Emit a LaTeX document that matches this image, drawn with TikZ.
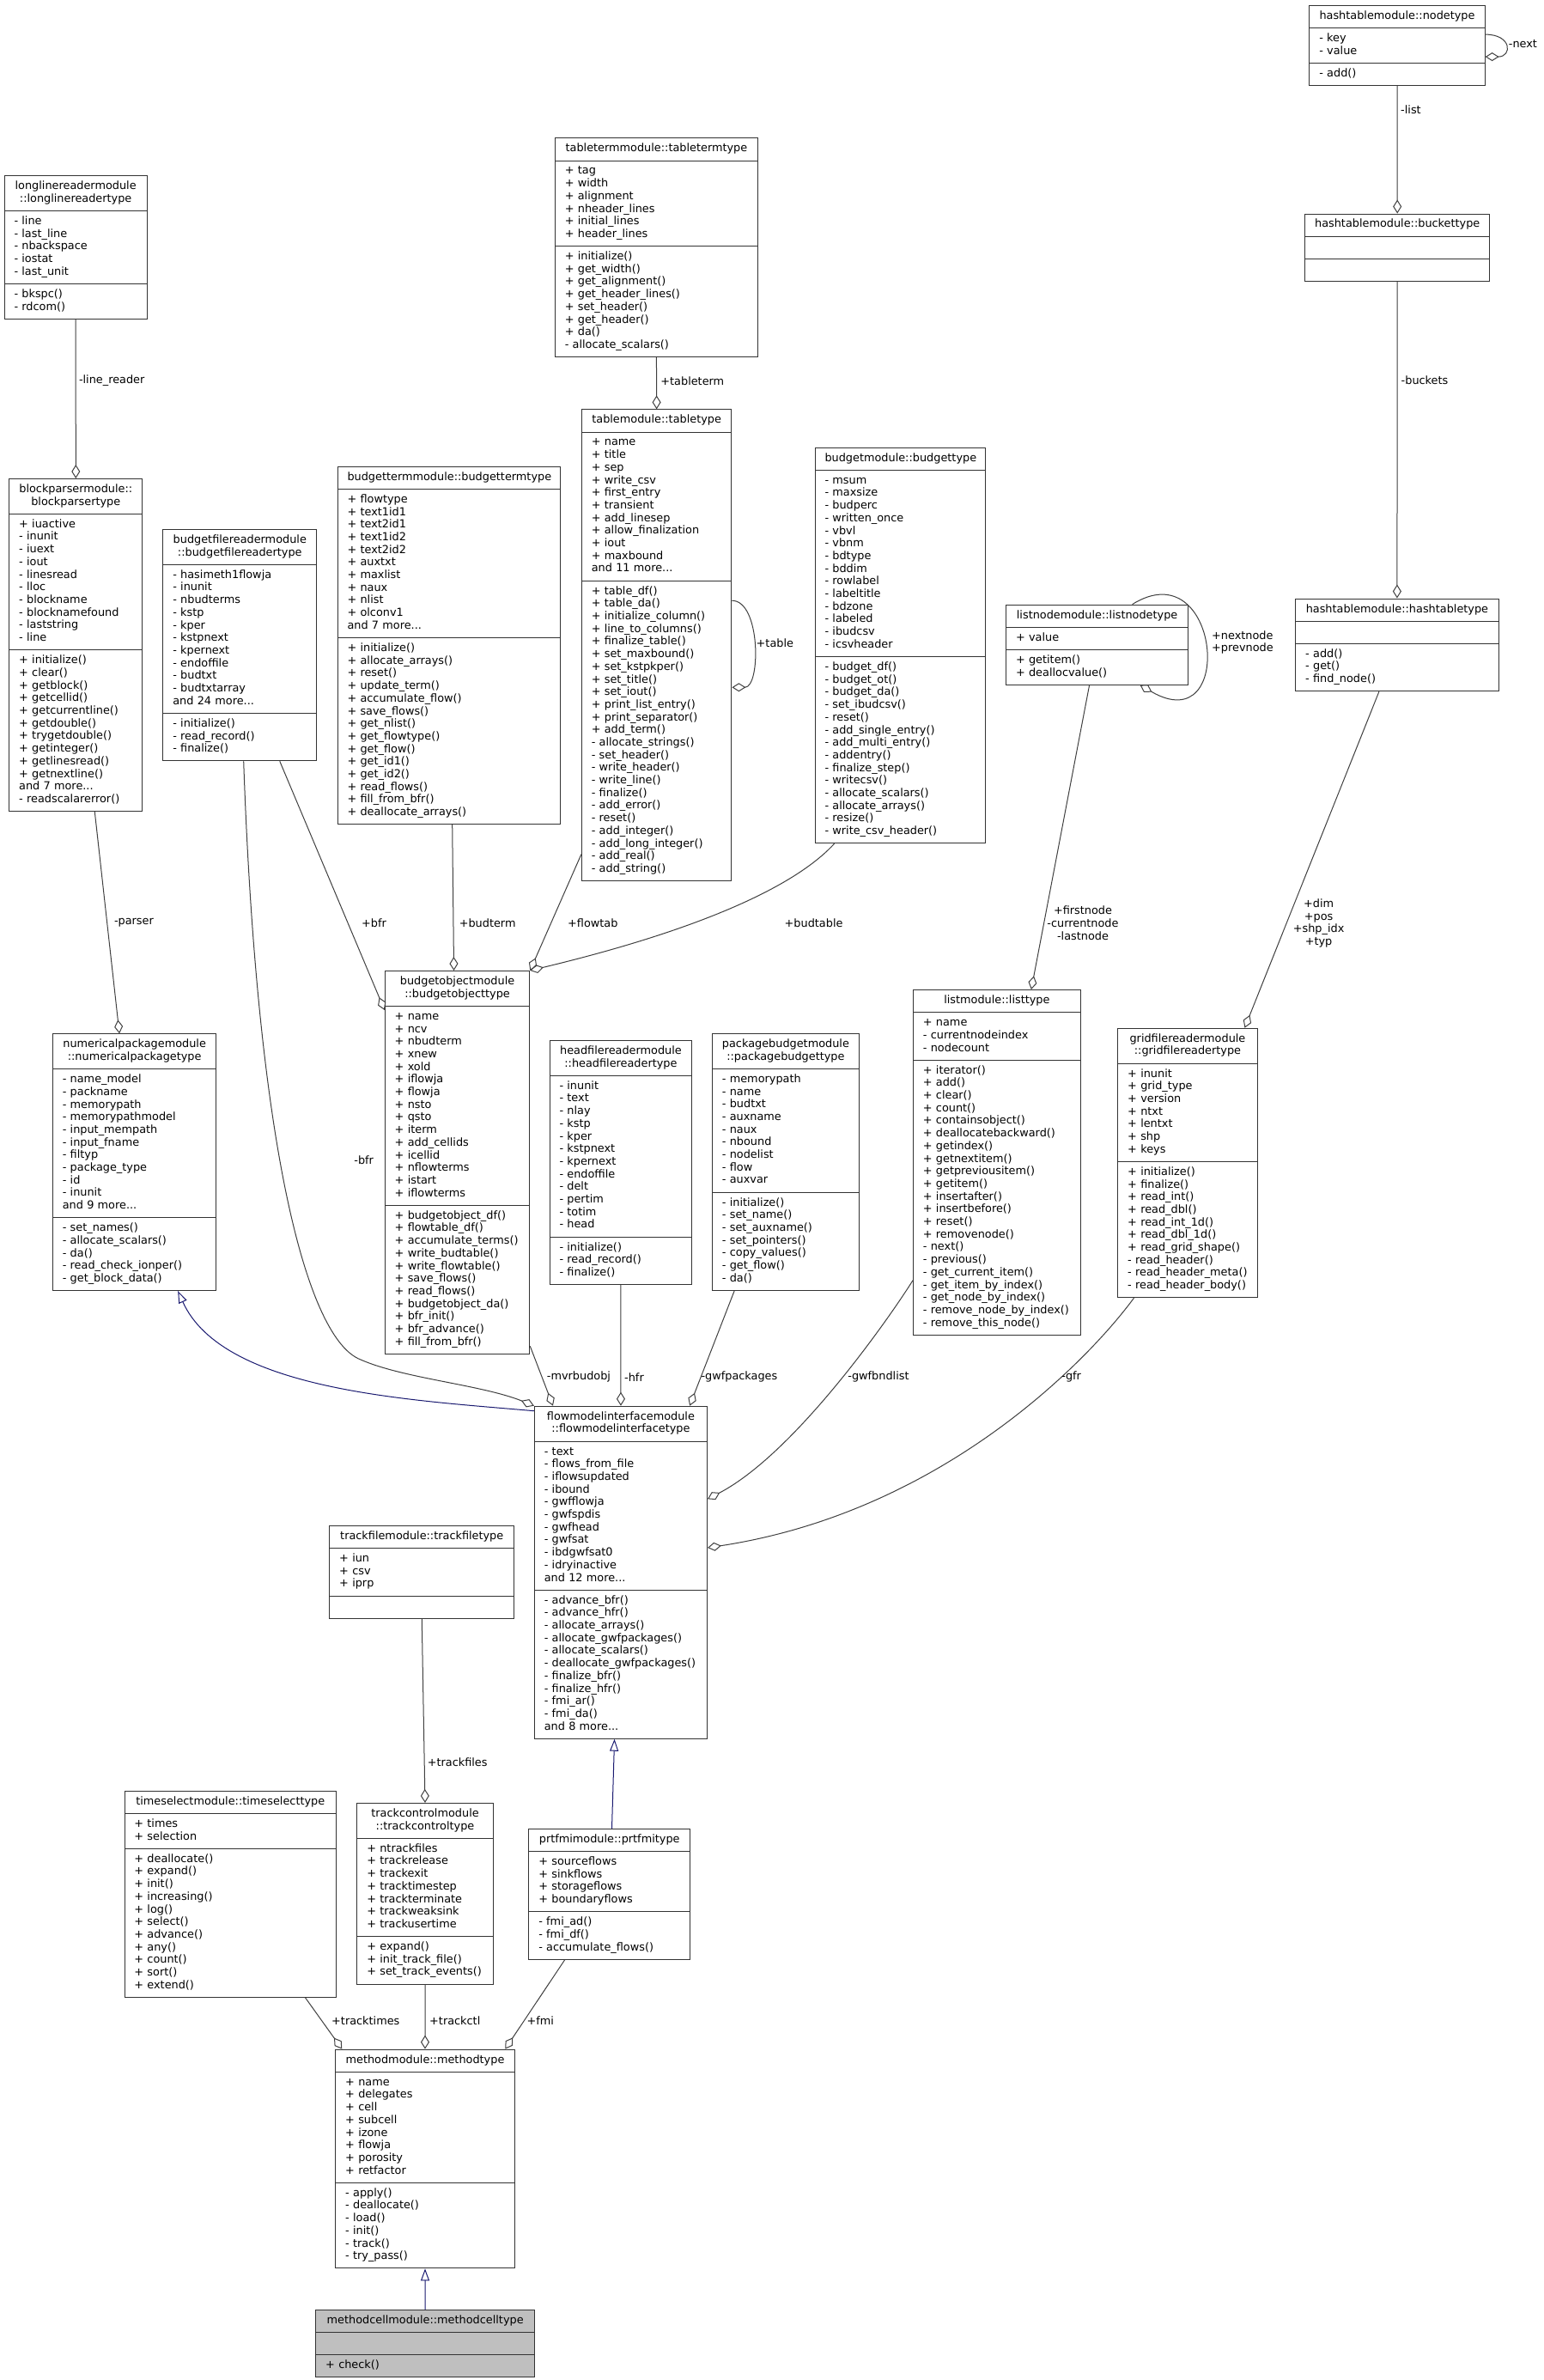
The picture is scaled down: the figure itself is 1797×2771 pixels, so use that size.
\documentclass[tikz,border=0pt]{standalone}
\usepackage{fontspec}
\setmainfont{DejaVu Sans}
\usepackage{tikz}
\usetikzlibrary{arrows.meta,shapes.multipart}

\definecolor{boxline}{HTML}{333333}
\definecolor{edgegray}{HTML}{404040}
\definecolor{inhblue}{HTML}{191970}
\definecolor{mainfill}{HTML}{BFBFBF}

\newcommand\clsfont{\fontsize{12.85}{14.7}\selectfont\hyphenpenalty=10000\exhyphenpenalty=10000}
\newcommand\umlcls[3]{\parbox{\linewidth}{\centering\strut#1\strut}\nodepart{two}\raggedright\strut#2\strut\nodepart{three}\raggedright\strut#3\strut}

\tikzset{
  cls/.style={rectangle split, rectangle split parts=3, draw=boxline, fill=white,
    line width=1pt, inner xsep=11.4pt, inner ysep=5.2pt, text width=#1,
    anchor=north west, font=\clsfont},
  maincls/.style={cls=#1, fill=mainfill},
  lbl/.style={inner sep=0pt, font=\clsfont},
  aggr/.style={draw=edgegray, line width=1pt, -{Diamond[open,length=16pt,width=10pt]}},
  inherit/.style={draw=inhblue, line width=1pt, -{Triangle[open,length=14pt,width=10pt]}}
}

\begin{document}
\begin{tikzpicture}[x=1pt, y=-1pt]
\useasboundingbox[fill=white] (0,0) rectangle (1797,2771);

% Hash table
\node[cls=181.4pt] (htnode) at (1524.4,6.1)
  {\umlcls{hashtablemodule::nodetype}{-~key\\-~value}{-~add()}};
\node[cls=192.4pt] (htbucket) at (1519.1,248.5)
  {\umlcls{hashtablemodule::buckettype}{}{}};
\node[cls=213.4pt] (httable) at (1508.3,696.5)
  {\umlcls{hashtablemodule::hashtabletype}{}{-~add()\\-~get()\\-~find\_node()}};

% Lists
\node[cls=189.2pt] (lnode) at (1171.1,703.6)
  {\umlcls{listnodemodule::listnodetype}{+~value}{+~getitem()\\+~deallocvalue()}};
\node[cls=172pt] (ltype) at (1063,1152)
  {\umlcls{listmodule::listtype}{+~name\\-~currentnodeindex\\-~nodecount}
  {+~iterator()\\+~add()\\+~clear()\\+~count()\\+~containsobject()\\+~deallocatebackward()\\+~getindex()\\+~getnextitem()\\+~getpreviousitem()\\+~getitem()\\+~insertafter()\\+~insertbefore()\\+~reset()\\+~removenode()\\-~next()\\-~previous()\\-~get\_current\_item()\\-~get\_item\_by\_index()\\-~get\_node\_by\_index()\\-~remove\_node\_by\_index()\\-~remove\_this\_node()}};
\node[cls=139.5pt] (gfr) at (1301.3,1196.7)
  {\umlcls{gridfilereadermodule\\::gridfilereadertype}
  {+~inunit\\+~grid\_type\\+~version\\+~ntxt\\+~lentxt\\+~shp\\+~keys}
  {+~initialize()\\+~finalize()\\+~read\_int()\\+~read\_dbl()\\+~read\_int\_1d()\\+~read\_dbl\_1d()\\+~read\_grid\_shape()\\-~read\_header()\\-~read\_header\_meta()\\-~read\_header\_body()}};

% Readers and parsers
\node[cls=143.3pt] (llr) at (4.6,204.3)
  {\umlcls{longlinereadermodule\\::longlinereadertype}
  {-~line\\-~last\_line\\-~nbackspace\\-~iostat\\-~last\_unit}{-~bkspc()\\-~rdcom()}};
\node[cls=132.2pt] (bps) at (10.3,557)
  {\umlcls{blockparsermodule::\\blockparsertype}
  {+~iuactive\\-~inunit\\-~iuext\\-~iout\\-~linesread\\-~lloc\\-~blockname\\-~blocknamefound\\-~laststring\\-~line}
  {+~initialize()\\+~clear()\\+~getblock()\\+~getcellid()\\+~getcurrentline()\\+~getdouble()\\+~trygetdouble()\\+~getinteger()\\+~getlinesread()\\+~getnextline()\\and~7~more...\\-~readscalarerror()}};
\node[cls=156pt] (bfr) at (189.4,615.9)
  {\umlcls{budgetfilereadermodule\\::budgetfilereadertype}
  {-~hasimeth1flowja\\-~inunit\\-~nbudterms\\-~kstp\\-~kper\\-~kstpnext\\-~kpernext\\-~endoffile\\-~budtxt\\-~budtxtarray\\and~24~more...}
  {-~initialize()\\-~read\_record()\\-~finalize()}};
\node[cls=237pt] (bterm) at (392.6,542.8)
  {\umlcls{budgettermmodule::budgettermtype}
  {+~flowtype\\+~text1id1\\+~text2id1\\+~text1id2\\+~text2id2\\+~auxtxt\\+~maxlist\\+~naux\\+~nlist\\+~olconv1\\and~7~more...}
  {+~initialize()\\+~allocate\_arrays()\\+~reset()\\+~update\_term()\\+~accumulate\_flow()\\+~save\_flows()\\+~get\_nlist()\\+~get\_flowtype()\\+~get\_flow()\\+~get\_id1()\\+~get\_id2()\\+~read\_flows()\\+~fill\_from\_bfr()\\+~deallocate\_arrays()}};

% Tables and budgets
\node[cls=213.3pt] (tterm) at (645.9,160.4)
  {\umlcls{tabletermmodule::tabletermtype}
  {+~tag\\+~width\\+~alignment\\+~nheader\_lines\\+~initial\_lines\\+~header\_lines}
  {+~initialize()\\+~get\_width()\\+~get\_alignment()\\+~get\_header\_lines()\\+~set\_header()\\+~get\_header()\\+~da()\\-~allocate\_scalars()}};
\node[cls=151.7pt] (ttype) at (676.9,476.4)
  {\umlcls{tablemodule::tabletype}
  {+~name\\+~title\\+~sep\\+~write\_csv\\+~first\_entry\\+~transient\\+~add\_linesep\\+~allow\_finalization\\+~iout\\+~maxbound\\and~11~more...}
  {+~table\_df()\\+~table\_da()\\+~initialize\_column()\\+~line\_to\_columns()\\+~finalize\_table()\\+~set\_maxbound()\\+~set\_kstpkper()\\+~set\_title()\\+~set\_iout()\\+~print\_list\_entry()\\+~print\_separator()\\+~add\_term()\\-~allocate\_strings()\\-~set\_header()\\-~write\_header()\\-~write\_line()\\-~finalize()\\-~add\_error()\\-~reset()\\-~add\_integer()\\-~add\_long\_integer()\\-~add\_real()\\-~add\_string()}};
\node[cls=175.9pt] (btype) at (948.6,520.7)
  {\umlcls{budgetmodule::budgettype}
  {-~msum\\-~maxsize\\-~budperc\\-~written\_once\\-~vbvl\\-~vbnm\\-~bdtype\\-~bddim\\-~rowlabel\\-~labeltitle\\-~bdzone\\-~labeled\\-~ibudcsv\\-~icsvheader}
  {-~budget\_df()\\-~budget\_ot()\\-~budget\_da()\\-~set\_ibudcsv()\\-~reset()\\-~add\_single\_entry()\\-~add\_multi\_entry()\\-~addentry()\\-~finalize\_step()\\-~writecsv()\\-~allocate\_scalars()\\-~allocate\_arrays()\\-~resize()\\-~write\_csv\_header()}};

% Middle row
\node[cls=167.7pt] (numpkg) at (60.9,1203.3)
  {\umlcls{numericalpackagemodule\\::numericalpackagetype}
  {-~name\_model\\-~packname\\-~memorypath\\-~memorypathmodel\\-~input\_mempath\\-~input\_fname\\-~filtyp\\-~package\_type\\-~id\\-~inunit\\and~9~more...}
  {-~set\_names()\\-~allocate\_scalars()\\-~da()\\-~read\_check\_ionper()\\-~get\_block\_data()}};
\node[cls=145.7pt] (budobj) at (447.8,1130)
  {\umlcls{budgetobjectmodule\\::budgetobjecttype}
  {+~name\\+~ncv\\+~nbudterm\\+~xnew\\+~xold\\+~iflowja\\+~flowja\\+~nsto\\+~qsto\\+~iterm\\+~add\_cellids\\+~icellid\\+~nflowterms\\+~istart\\+~iflowterms}
  {+~budgetobject\_df()\\+~flowtable\_df()\\+~accumulate\_terms()\\+~write\_budtable()\\+~write\_flowtable()\\+~save\_flows()\\+~read\_flows()\\+~budgetobject\_da()\\+~bfr\_init()\\+~bfr\_advance()\\+~fill\_from\_bfr()}};
\node[cls=142.9pt] (hfr) at (639.6,1210.9)
  {\umlcls{headfilereadermodule\\::headfilereadertype}
  {-~inunit\\-~text\\-~nlay\\-~kstp\\-~kper\\-~kstpnext\\-~kpernext\\-~endoffile\\-~delt\\-~pertim\\-~totim\\-~head}
  {-~initialize()\\-~read\_record()\\-~finalize()}};
\node[cls=148pt] (pkgbud) at (829,1203)
  {\umlcls{packagebudgetmodule\\::packagebudgettype}
  {-~memorypath\\-~name\\-~budtxt\\-~auxname\\-~naux\\-~nbound\\-~nodelist\\-~flow\\-~auxvar}
  {-~initialize()\\-~set\_name()\\-~set\_auxname()\\-~set\_pointers()\\-~copy\_values()\\-~get\_flow()\\-~da()}};
\node[cls=178.3pt] (fmi) at (621.9,1636.7)
  {\umlcls{flowmodelinterfacemodule\\::flowmodelinterfacetype}
  {-~text\\-~flows\_from\_file\\-~iflowsupdated\\-~ibound\\-~gwfflowja\\-~gwfspdis\\-~gwfhead\\-~gwfsat\\-~ibdgwfsat0\\-~idryinactive\\and~12~more...}
  {-~advance\_bfr()\\-~advance\_hfr()\\-~allocate\_arrays()\\-~allocate\_gwfpackages()\\-~allocate\_scalars()\\-~deallocate\_gwfpackages()\\-~finalize\_bfr()\\-~finalize\_hfr()\\-~fmi\_ar()\\-~fmi\_da()\\and~8~more...}};

% Tracking
\node[cls=192.1pt] (trackfile) at (383.3,1775.9)
  {\umlcls{trackfilemodule::trackfiletype}{+~iun\\+~csv\\+~iprp}{}};
\node[cls=223.8pt] (timesel) at (144.5,2084.8)
  {\umlcls{timeselectmodule::timeselecttype}{+~times\\+~selection}
  {+~deallocate()\\+~expand()\\+~init()\\+~increasing()\\+~log()\\+~select()\\+~advance()\\+~any()\\+~count()\\+~sort()\\+~extend()}};
\node[cls=135.4pt] (trackctl) at (415.4,2098.9)
  {\umlcls{trackcontrolmodule\\::trackcontroltype}
  {+~ntrackfiles\\+~trackrelease\\+~trackexit\\+~tracktimestep\\+~trackterminate\\+~trackweaksink\\+~trackusertime}
  {+~expand()\\+~init\_track\_file()\\+~set\_track\_events()}};
\node[cls=164.8pt] (prtfmi) at (615.4,2128.8)
  {\umlcls{prtfmimodule::prtfmitype}{+~sourceflows\\+~sinkflows\\+~storageflows\\+~boundaryflows}
  {-~fmi\_ad()\\-~fmi\_df()\\-~accumulate\_flows()}};
\node[cls=185.6pt] (mtype) at (390.3,2385.6)
  {\umlcls{methodmodule::methodtype}
  {+~name\\+~delegates\\+~cell\\+~subcell\\+~izone\\+~flowja\\+~porosity\\+~retfactor}
  {-~apply()\\-~deallocate()\\-~load()\\-~init()\\-~track()\\-~try\_pass()}};
\node[maincls=231.9pt] (mcell) at (367.3,2689)
  {\umlcls{methodcellmodule::methodcelltype}{}{+~check()}};

% Members
\draw[aggr] ([yshift=13pt]htnode.east) .. controls +(31.4pt,0pt) and +(31.4pt,0pt) .. ([yshift=-13pt]htnode.east);
\draw[aggr] (htnode.south) -- (htbucket.north);
\draw[aggr] (htbucket.south) -- (httable.north);
\draw[aggr] ([xshift=-21pt]httable.south) -- ([xshift=66.5pt]gfr.north);
\draw[aggr] ([xshift=41pt]lnode.north) .. controls +(102pt,63.6pt) and +(113pt,-65.7pt) .. ([xshift=50pt]lnode.south);
\draw[aggr] ([xshift=-9pt]lnode.south) -- ([xshift=40pt]ltype.north);
\draw[aggr] (llr.south) -- (bps.north);
\draw[aggr] ([xshift=22pt]bps.south) -- ([xshift=-17.6pt]numpkg.north);
\draw[aggr] (tterm.south) -- (ttype.north);
\draw[aggr] ([yshift=52pt]ttype.east) .. controls +(33.6pt,0pt) and +(33.6pt,0pt) .. ([yshift=-49pt]ttype.east);
\draw[aggr] ([xshift=46.5pt]bfr.south) -- ([yshift=-46pt]budobj.north west);
\draw[aggr] ([xshift=3.7pt]bterm.south) -- ([xshift=-4pt]budobj.north);
\draw[aggr] ([yshift=31.5pt]ttype.south west) -- (budobj.north east);
\draw[aggr] ([xshift=-76.8pt]btype.south) .. controls (900,1060) and (700,1110) .. (budobj.north east);
\draw[aggr] ([xshift=4.4pt]bfr.south) .. controls (300,1350) and (360,1560) .. (420,1583)
  .. controls (470,1605) and (560,1612) .. (fmi.north west);
\draw[aggr] ([yshift=9.5pt]budobj.south east) -- ([xshift=-79pt]fmi.north);
\draw[aggr] (hfr.south) -- (fmi.north);
\draw[aggr] ([xshift=-59.7pt]pkgbud.south) -- ([xshift=80.2pt]fmi.north);
\draw[aggr] ([yshift=64pt]ltype.south west) .. controls (1045,1520) and (930,1690) .. ([yshift=85.4pt]fmi.east);
\draw[aggr] ([xshift=-62.5pt]gfr.south) .. controls (1270,1580) and (1100,1760) .. ([yshift=28.7pt]fmi.east);
\draw[aggr] (trackfile.south) -- (trackctl.north);
\draw[aggr] ([xshift=87.2pt]timesel.south) -- ([xshift=8pt]mtype.north west);
\draw[aggr] (trackctl.south) -- (mtype.north);
\draw[aggr] ([xshift=-51.9pt]prtfmi.south) -- ([xshift=-11.4pt]mtype.north east);

% Inheritance
\draw[inherit] ([yshift=-6pt]fmi.north west) .. controls (480,1630) and (260,1620) .. ([xshift=50.5pt]numpkg.south);
\draw[inherit] ([xshift=2.8pt]prtfmi.north) -- ([xshift=-7.4pt]fmi.south);
\draw[inherit] (mcell.north) -- (mtype.south);

% Edge labels
\node[lbl, anchor=west] (lb-next) at (1756.7,51) {-next};
\node[lbl, anchor=west] (lb-list) at (1631,127.6) {-list};
\node[lbl, anchor=west] (lb-buckets) at (1631.5,442.9) {-buckets};
\node[lbl, anchor=west, align=left] (lb-nextnode) at (1411,747.8) {+nextnode\\+prevnode};
\node[lbl, align=center] (lb-firstnode) at (1261,1074.7) {+firstnode\\-currentnode\\-lastnode};
\node[lbl, align=center] (lb-dim) at (1535.6,1074.8) {+dim\\+pos\\+shp\_idx\\+typ};
\node[lbl, anchor=west] (lb-linereader) at (91.8,443) {-line\_reader};
\node[lbl, anchor=west] (lb-tableterm) at (769.2,443.6) {+tableterm};
\node[lbl, anchor=west] (lb-table) at (880.5,748.6) {+table};
\node[lbl, anchor=west] (lb-parser) at (132.8,1074.6) {-parser};
\node[lbl, anchor=west] (lb-bfrplus) at (421,1074.6) {+bfr};
\node[lbl, anchor=west] (lb-budterm) at (534.6,1074.6) {+budterm};
\node[lbl, anchor=west] (lb-flowtab) at (661,1074.6) {+flowtab};
\node[lbl, anchor=west] (lb-budtable) at (913.5,1074.6) {+budtable};
\node[lbl, anchor=west] (lb-bfrminus) at (412.2,1350.3) {-bfr};
\node[lbl, anchor=west] (lb-mvrbudobj) at (636.7,1603.3) {-mvrbudobj};
\node[lbl, anchor=west] (lb-hfr) at (727,1603.3) {-hfr};
\node[lbl, anchor=west] (lb-gwfpackages) at (816.3,1603.3) {-gwfpackages};
\node[lbl, anchor=west] (lb-gwfbndlist) at (987.2,1603.3) {-gwfbndlist};
\node[lbl, anchor=west] (lb-gfr) at (1236.2,1603.3) {-gfr};
\node[lbl, anchor=west] (lb-trackfiles) at (497.6,2051.9) {+trackfiles};
\node[lbl, anchor=west] (lb-tracktimes) at (386,2352.5) {+tracktimes};
\node[lbl, anchor=west] (lb-trackctl) at (500,2352.5) {+trackctl};
\node[lbl, anchor=west] (lb-fmi) at (613.3,2352.5) {+fmi};

\end{tikzpicture}
\end{document}
